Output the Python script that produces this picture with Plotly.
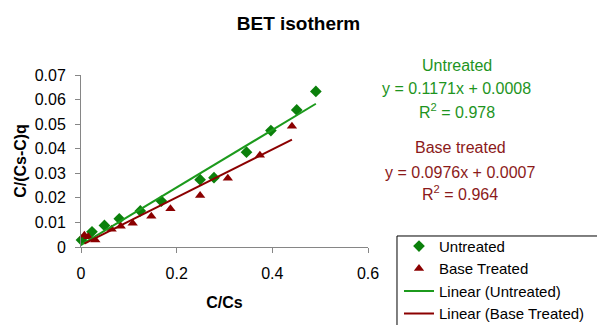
import plotly.graph_objects as go

# ---- data ----
untreated_x = [0.001, 0.023, 0.049, 0.080, 0.124, 0.168, 0.249, 0.278, 0.346, 0.397, 0.451, 0.491]
untreated_y = [0.0028, 0.0062, 0.0088, 0.0115, 0.0147, 0.0187, 0.0274, 0.0282, 0.0386, 0.0474, 0.0558, 0.0633]

base_x = [0.007, 0.015, 0.030, 0.064, 0.083, 0.108, 0.147, 0.187, 0.249, 0.307, 0.374, 0.441]
base_y = [0.0048, 0.0042, 0.0028, 0.0072, 0.0084, 0.0097, 0.0125, 0.0156, 0.0210, 0.0280, 0.0373, 0.0491]

# trendline coefficients shown on the chart
untreated_fit = (0.1171, 0.0008, 0.978)
base_fit = (0.0976, 0.0007, 0.964)

x_ticks = [0, 0.2, 0.4, 0.6]
y_ticks = [0, 0.01, 0.02, 0.03, 0.04, 0.05, 0.06, 0.07]

GREEN_M = "#0B800B"
GREEN_L = "#1C9A1C"
RED = "#8B0000"
FONT = "Arial, Liberation Sans, sans-serif"


def line_pts(xs, fit):
    lo, hi = min(xs), max(xs)
    return [lo, hi], [fit[0] * lo + fit[1], fit[0] * hi + fit[1]]


fig = go.Figure()
fig.add_trace(go.Scatter(x=untreated_x, y=untreated_y, mode="markers", name="Untreated",
                         marker=dict(symbol="diamond", size=9, color=GREEN_M),
                         cliponaxis=False, legendgroup="a"))
fig.add_trace(go.Scatter(x=base_x, y=base_y, mode="markers", name="Base Treated",
                         marker=dict(symbol="triangle-up", size=9, color=RED),
                         cliponaxis=False, legendgroup="b"))
lx, ly = line_pts(untreated_x, untreated_fit)
fig.add_trace(go.Scatter(x=lx, y=ly, mode="lines", name="Linear (Untreated)",
                         line=dict(color=GREEN_L, width=2), legendgroup="c"))
lx, ly = line_pts(base_x, base_fit)
fig.add_trace(go.Scatter(x=lx, y=ly, mode="lines", name="Linear (Base Treated)",
                         line=dict(color=RED, width=2), legendgroup="d"))

ann = []
def add_block(title, fit, color, xc, ys):
    texts = [title,
             f"y = {fit[0]:.4f}x + {fit[1]:.4f}",
             f"R<sup>2</sup> = {fit[2]:.3f}"]
    for t, yy in zip(texts, ys):
        ann.append(dict(text=t, x=xc, y=yy, xref="paper", yref="paper",
                        xanchor="center", yanchor="middle", showarrow=False,
                        font=dict(family=FONT, size=16, color=color)))

add_block("Untreated", untreated_fit, "#1E941E", 1.310, [1.058, 0.924, 0.791])
add_block("Base treated", base_fit, "#8B1A1A", 1.321, [0.576, 0.436, 0.314])

fig.update_layout(
    width=597, height=325,
    margin=dict(l=81, r=229, t=75, b=78, autoexpand=False),
    paper_bgcolor="white", plot_bgcolor="white",
    font=dict(family=FONT, size=16, color="#000"),
    title=dict(text="<b>BET isotherm</b>", x=0.5, xanchor="center",
               y=1 - 23.5 / 325, yanchor="middle", yref="container",
               font=dict(family=FONT, size=19, color="#000")),
    xaxis=dict(range=[0, 0.6], tickvals=x_ticks, ticktext=[f"{v:g}" for v in x_ticks],
               showgrid=False, zeroline=False, showline=True, linecolor="#868686",
               linewidth=1, ticks="outside", ticklen=5, tickcolor="#868686",
               ticklabelstandoff=7,
               title=dict(text="<b>C/Cs</b>", standoff=15, font=dict(size=16))),
    yaxis=dict(range=[0, 0.07], tickvals=y_ticks, ticktext=[f"{v:g}" for v in y_ticks],
               showgrid=False, zeroline=False, showline=True, linecolor="#868686",
               linewidth=1, ticks="outside", ticklen=5, tickcolor="#868686",
               ticklabelstandoff=6,
               title=dict(text="<b>C/(Cs-C)q</b>", standoff=4, font=dict(size=16))),
    legend=dict(x=1.108, y=0.10, xanchor="left", yanchor="top",
                borderwidth=0, bgcolor="rgba(0,0,0,0)",
                font=dict(family=FONT, size=15), tracegroupgap=0,
                itemwidth=30),
    showlegend=True,
    annotations=ann,
    shapes=[dict(type="rect", xref="paper", yref="paper",
                 x0=1.101, x1=1.85, y0=-0.55, y1=0.064,
                 line=dict(color="#000", width=1), fillcolor="rgba(0,0,0,0)",
                 layer="below")],
)

fig.write_html("out.html")
